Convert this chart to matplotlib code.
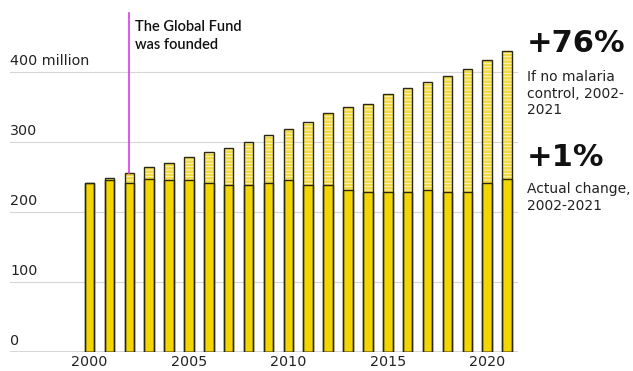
"""Malaria cases 2000-2021: actual vs. if no malaria control."""

import matplotlib

matplotlib.use("Agg")
import matplotlib.pyplot as plt

years = list(range(2000, 2022))
# total height = cases if no malaria control (million)
no_control = [242, 248, 256, 265, 270, 278, 286, 292, 300, 310, 318,
              328, 341, 350, 354, 368, 377, 386, 394, 404, 417, 430]
# actual cases (million)
actual = [242, 246, 242, 247, 246, 246, 242, 238, 238, 242, 246,
          238, 238, 232, 229, 229, 229, 232, 229, 229, 242, 247]

y_ticks = [0, 100, 200, 300, 400]
y_tick_labels = ["0", "100", "200", "300", "400 million"]
x_ticks = [2000, 2005, 2010, 2015, 2020]

founded_year = 2002

YELLOW = "#F3D500"
PALE = "#FFF8D6"
EDGE = "#2a2812"
MAGENTA = "#D83CE6"

plt.rcParams["font.family"] = ["DejaVu Sans"]
plt.rcParams["hatch.linewidth"] = 1.8

W, H = 633, 371
fig = plt.figure(figsize=(W / 100, H / 100), dpi=100)

# axes in pixels: left 10, right 518, bottom 352, top 44
ax = fig.add_axes([10 / W, (H - 352) / H, (518 - 10) / W, (352 - 44) / H])
ax.set_xlim(1996.0, 2021.55)
ax.set_ylim(0, 440)

gap = [n - a for n, a in zip(no_control, actual)]
bw = 0.48

# hatched "extra" part
ax.bar(years, gap, bottom=actual, width=bw, color=PALE, edgecolor="#F2DA40",
       hatch="-----", linewidth=0, zorder=2)
# actual part
ax.bar(years, actual, width=bw, color=YELLOW, edgecolor=EDGE, linewidth=1.0, zorder=3)
# outline of full bar
ax.bar(years, no_control, width=bw, fill=False, edgecolor=EDGE, linewidth=1.0, zorder=4)

for t in y_ticks[1:]:
    ax.axhline(t, color="#d6d6d6", lw=0.8, zorder=1)
ax.axhline(0, color="#333333", lw=1.0, zorder=5)

for t, lab in zip(y_ticks, y_tick_labels):
    ax.text(1996.0, t + 6, lab, ha="left", va="bottom", fontsize=10.3, color="#222222")

for s in ax.spines.values():
    s.set_visible(False)
ax.set_yticks([])
ax.set_xticks(x_ticks)
ax.tick_params(axis="x", length=0, pad=2, labelsize=10.3, labelcolor="#222222")

# Global Fund marker
i = years.index(founded_year)
ax.plot([founded_year, founded_year], [no_control[i], 484], color=MAGENTA, lw=1.2,
        clip_on=False, zorder=6)
ax.text(founded_year + 0.3, 474, "The Global Fund\nwas founded", ha="left", va="top",
        fontsize=10.5, fontweight="semibold", family=["Lato", "DejaVu Sans"],
        color="#111111", linespacing=1.3, clip_on=False)

# right-side annotations
fig.text(527 / W, 1 - 29 / H, "+76%", ha="left", va="top", fontsize=22,
         fontweight="heavy", color="#111111")
fig.text(527 / W, 1 - 70 / H, "If no malaria\ncontrol, 2002-\n2021", ha="left", va="top",
         fontsize=10, color="#222222", linespacing=1.25)
fig.text(527 / W, 1 - 143 / H, "+1%", ha="left", va="top", fontsize=22,
         fontweight="heavy", color="#111111")
fig.text(527 / W, 1 - 182 / H, "Actual change,\n2002-2021", ha="left", va="top",
         fontsize=10, color="#222222", linespacing=1.25)

fig.savefig("out.png", dpi=100)
